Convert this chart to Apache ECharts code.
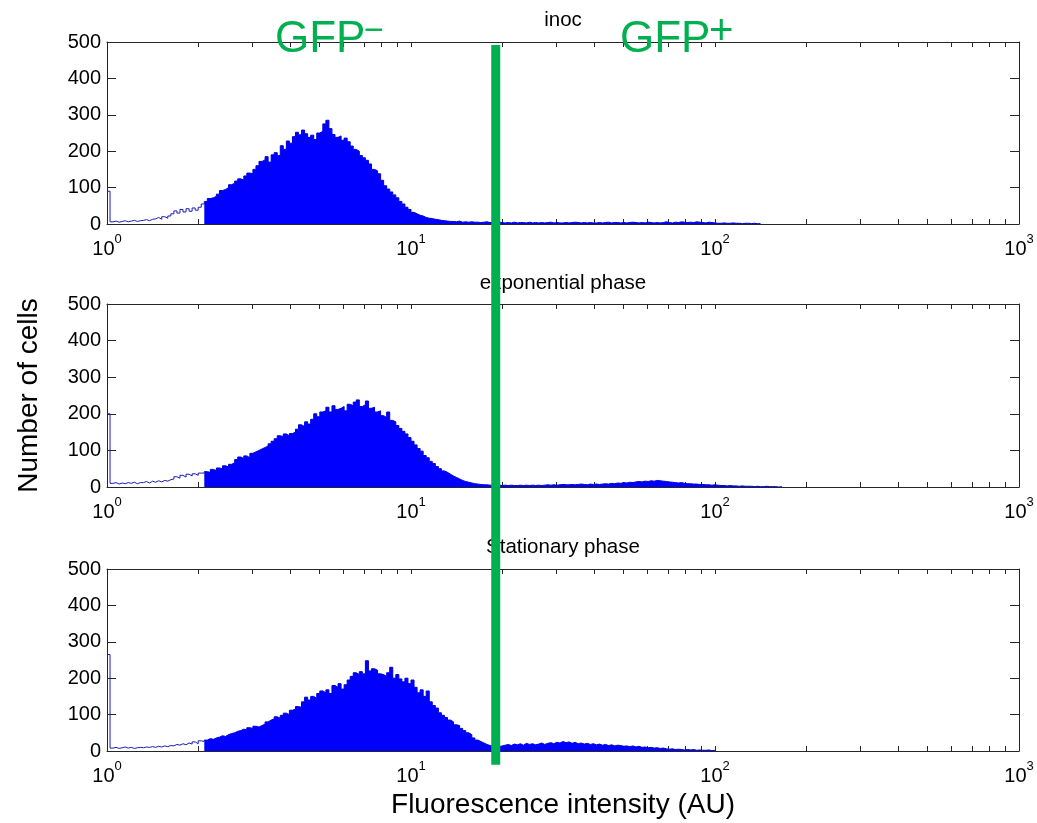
<!DOCTYPE html>
<html>
<head>
<meta charset="utf-8">
<script src="https://cdn.jsdelivr.net/npm/echarts@6/dist/echarts.min.js"></script>
<style>
  html, body { margin: 0; padding: 0; background: #fff; }
  #chart { width: 1037px; height: 823px; }
</style>
</head>
<body>
<div id="chart"></div>
<script>
// Flow-cytometry fluorescence histograms: one count per 1/100-decade bin, starting at 1 AU.
const BIN_START = 1;
const BINS_PER_DECADE = 100;

const panelTitles = ['inoc', 'exponential phase', 'Stationary phase'];

const countsInoc = [90,
  6,8,5,7,9,6,8,10,7,9,
  10,12,9,13,14,18,13,20,16,22,
  28,36,30,40,33,42,35,44,38,46,
  55,62,70,72,76,82,92,95,100,108,
  112,118,124,121,132,140,138,150,160,172,
  176,185,170,190,196,188,215,205,228,222,
  240,252,245,258,248,238,244,232,250,255,
  275,285,262,246,238,242,230,236,226,214,
  205,200,188,182,175,165,150,146,138,120,
  105,96,88,80,72,62,55,46,40,32,
  28,24,22,18,16,15,13,12,10,9,
  8,7,7,6,8,5,6,5,6,5,
  5,4,5,6,4,5,4,5,4,3,
  4,3,5,3,4,4,3,5,3,4,
  3,4,3,4,5,3,4,3,3,4,
  3,4,5,4,3,4,3,4,3,3,
  4,3,4,5,3,4,4,3,4,3,
  4,5,4,3,4,3,5,4,3,4,
  3,4,6,4,3,5,4,6,5,4,
  5,4,6,5,4,3,5,4,3,2,
  2,3,2,2,3,2,2,1,2,2,
  1,2,1,1,0];

const countsExponential = [200,
  10,12,8,11,9,12,10,13,9,12,
  12,15,11,16,13,17,14,18,16,20,
  22,28,24,32,27,35,30,36,32,38,
  38,42,40,48,45,52,50,58,55,62,
  66,75,82,78,85,80,92,96,100,104,
  108,112,118,125,132,140,138,145,140,146,
  150,158,170,165,178,172,185,200,192,205,
  208,218,205,222,212,215,220,208,226,222,
  232,238,220,225,235,215,218,205,208,195,
  190,205,182,178,168,160,152,145,135,125,
  115,105,98,86,80,70,64,56,50,44,
  40,35,30,26,22,18,15,13,11,9,
  8,7,6,6,5,5,4,5,4,5,
  4,5,4,4,5,4,5,4,5,4,
  5,4,5,6,5,6,5,6,7,6,
  6,7,6,7,8,7,6,8,7,8,
  7,8,9,8,10,9,11,10,12,11,
  13,12,14,15,14,16,15,17,16,18,
  17,16,15,14,13,12,11,12,10,9,
  9,8,8,7,7,6,6,5,6,5,
  4,4,3,4,3,3,2,3,2,2,
  2,1,2,1,1,2,1,1,1,0,1,0];

const countsStationary = [265,
  8,10,7,9,11,8,10,7,9,10,
  9,11,10,12,10,13,11,14,12,15,
  14,18,16,20,17,22,19,25,20,28,
  26,30,34,32,36,38,42,40,45,48,
  50,54,56,60,58,64,62,68,66,70,
  74,80,85,88,94,90,98,104,100,112,
  115,122,120,135,148,140,150,145,158,165,
  160,168,158,180,175,185,170,182,195,205,
  215,210,218,212,248,220,226,222,212,210,
  205,215,230,200,210,198,190,200,185,195,
  175,160,168,150,165,135,125,118,105,98,
  92,85,80,72,70,62,56,50,45,36,
  30,26,22,18,15,13,11,12,14,16,
  18,15,19,17,20,16,21,18,20,17,
  19,22,18,21,23,20,24,22,26,23,
  25,21,24,20,22,19,21,18,20,17,
  19,16,18,15,17,14,16,15,13,14,
  12,14,11,13,10,11,9,10,8,9,
  7,8,6,5,6,4,5,4,3,4,
  3,4,2,3,2,2,3,1,2,1];

const panelCounts = [countsInoc, countsExponential, countsStationary];

// Bins below this index are drawn as an outline only; the rest are filled.
const OUTLINE_BINS = 32;

// GFP gate between negative and positive cells (AU)
const GATE_INTENSITY = 19;

const X_MIN = 1, X_MAX = 1000;
const Y_MIN = 0, Y_MAX = 500, Y_STEP = 100;

const FONT = '"Liberation Sans", Arial, Helvetica, sans-serif';
const AXIS_COLOR = '#262626';
const FILL_BLUE = '#0000ff';
const EDGE_BLUE = '#0000d8';
const OUTLINE_BLUE = '#1c1cb4';
const GATE_GREEN = '#00b050';

const gridBoxes = [
  { left: 107, right: 18, top: 42, height: 182 },
  { left: 107, right: 18, top: 304, height: 183 },
  { left: 107, right: 18, top: 569, height: 182 }
];

function binEdge(k) {
  return BIN_START * Math.pow(10, k / BINS_PER_DECADE);
}

function toPairs(counts, from, to) {
  const out = [];
  for (let k = from; k <= Math.min(to, counts.length - 1); k++) {
    out.push([binEdge(k), counts[k]]);
  }
  return out;
}

function decadeLabel(v) {
  const e = Math.round(Math.log10(v));
  return '{b|10}{s|' + e + '}';
}

const xAxes = [], yAxes = [], series = [];

gridBoxes.forEach((g, i) => {
  const common = {
    type: 'log', logBase: 10, gridIndex: i, min: X_MIN, max: X_MAX,
    axisLine: { show: true, onZero: false, lineStyle: { color: AXIS_COLOR, width: 1 } },
    axisTick: { show: true, inside: true, length: 5, lineStyle: { color: AXIS_COLOR } },
    minorTick: { show: true, splitNumber: 9, length: 5, lineStyle: { color: AXIS_COLOR } },
    splitLine: { show: false }, minorSplitLine: { show: false }
  };
  xAxes.push(Object.assign({}, common, {
    position: 'bottom',
    axisLabel: {
      show: true, margin: 9, formatter: decadeLabel,
      rich: {
        b: { fontSize: 20, fontFamily: FONT, color: '#000', verticalAlign: 'bottom' },
        s: { fontSize: 13, fontFamily: FONT, color: '#000', verticalAlign: 'top', padding: [0, 0, 13, 0] }
      }
    },
    name: i === 2 ? 'Fluorescence intensity (AU)' : '',
    nameLocation: 'middle', nameGap: 40,
    nameTextStyle: { fontSize: 28, fontFamily: FONT, color: '#000' }
  }));
  xAxes.push(Object.assign({}, common, {
    position: 'top', axisLabel: { show: false }
  }));

  const yCommon = {
    type: 'value', gridIndex: i, min: Y_MIN, max: Y_MAX, interval: Y_STEP,
    axisLine: { show: true, onZero: false, lineStyle: { color: AXIS_COLOR, width: 1 } },
    axisTick: { show: true, inside: true, length: 9, lineStyle: { color: AXIS_COLOR } },
    splitLine: { show: false }
  };
  yAxes.push(Object.assign({}, yCommon, {
    position: 'left',
    axisLabel: { show: true, margin: 6, fontSize: 20, fontFamily: FONT, color: '#000' },
    name: i === 1 ? 'Number of cells' : '',
    nameLocation: 'middle', nameGap: 64,
    nameTextStyle: { fontSize: 28, fontFamily: FONT, color: '#000' }
  }));
  yAxes.push(Object.assign({}, yCommon, {
    position: 'right', axisLabel: { show: false }
  }));

  const counts = panelCounts[i];
  series.push({
    name: panelTitles[i] + ' (low)',
    type: 'line', xAxisIndex: 2 * i, yAxisIndex: 2 * i,
    step: 'end', showSymbol: false, silent: true,
    lineStyle: { color: OUTLINE_BLUE, width: 1 },
    data: toPairs(counts, 0, OUTLINE_BINS),
    z: 3
  });
  series.push({
    name: panelTitles[i],
    type: 'line', xAxisIndex: 2 * i, yAxisIndex: 2 * i,
    step: 'end', showSymbol: false, silent: true,
    lineStyle: { color: EDGE_BLUE, width: 1 },
    areaStyle: { color: FILL_BLUE, opacity: 1 },
    data: toPairs(counts, OUTLINE_BINS, counts.length - 1),
    z: 2
  });
});

const chart = echarts.init(document.getElementById('chart'), null, { renderer: 'canvas' });
chart.setOption({
  animation: false,
  backgroundColor: '#ffffff',
  textStyle: { fontFamily: FONT },
  grid: gridBoxes,
  xAxis: xAxes,
  yAxis: yAxes,
  series: series
});

// Panel titles, gate line and GFP-/GFP+ annotations
const plotCenterX = 107 + (1037 - 107 - 18) / 2;
const titleY = [20, 283, 547];
const gateX = chart.convertToPixel({ xAxisIndex: 0 }, GATE_INTENSITY);
const gateTop = chart.convertToPixel({ yAxisIndex: 0 }, 492);
const gateBottom = chart.convertToPixel({ yAxisIndex: 4 }, -38);

const graphics = panelTitles.map((t, i) => ({
  type: 'text', z: 50,
  style: {
    text: t, x: plotCenterX, y: titleY[i],
    textAlign: 'center', textVerticalAlign: 'middle',
    font: '20.5px ' + FONT, fill: '#000'
  }
}));

graphics.push({
  type: 'rect', z: 60,
  shape: { x: gateX - 4.5, y: gateTop, width: 9, height: gateBottom - gateTop },
  style: { fill: GATE_GREEN }
});

function gfpLabel(x, sign, signX, signY, signSize) {
  return [
    { type: 'text', z: 70, style: { text: 'GFP', x: x, y: 40, textVerticalAlign: 'middle', font: '44px ' + FONT, fill: GATE_GREEN } },
    { type: 'text', z: 70, style: { text: sign, x: signX, y: signY, textVerticalAlign: 'middle', font: signSize + 'px ' + FONT, fill: GATE_GREEN } }
  ];
}
graphics.push(...gfpLabel(275, '\u2212', 364, 32, 34));
graphics.push(...gfpLabel(620, '+', 709, 32, 42));

chart.setOption({ graphic: graphics });
</script>
</body>
</html>
